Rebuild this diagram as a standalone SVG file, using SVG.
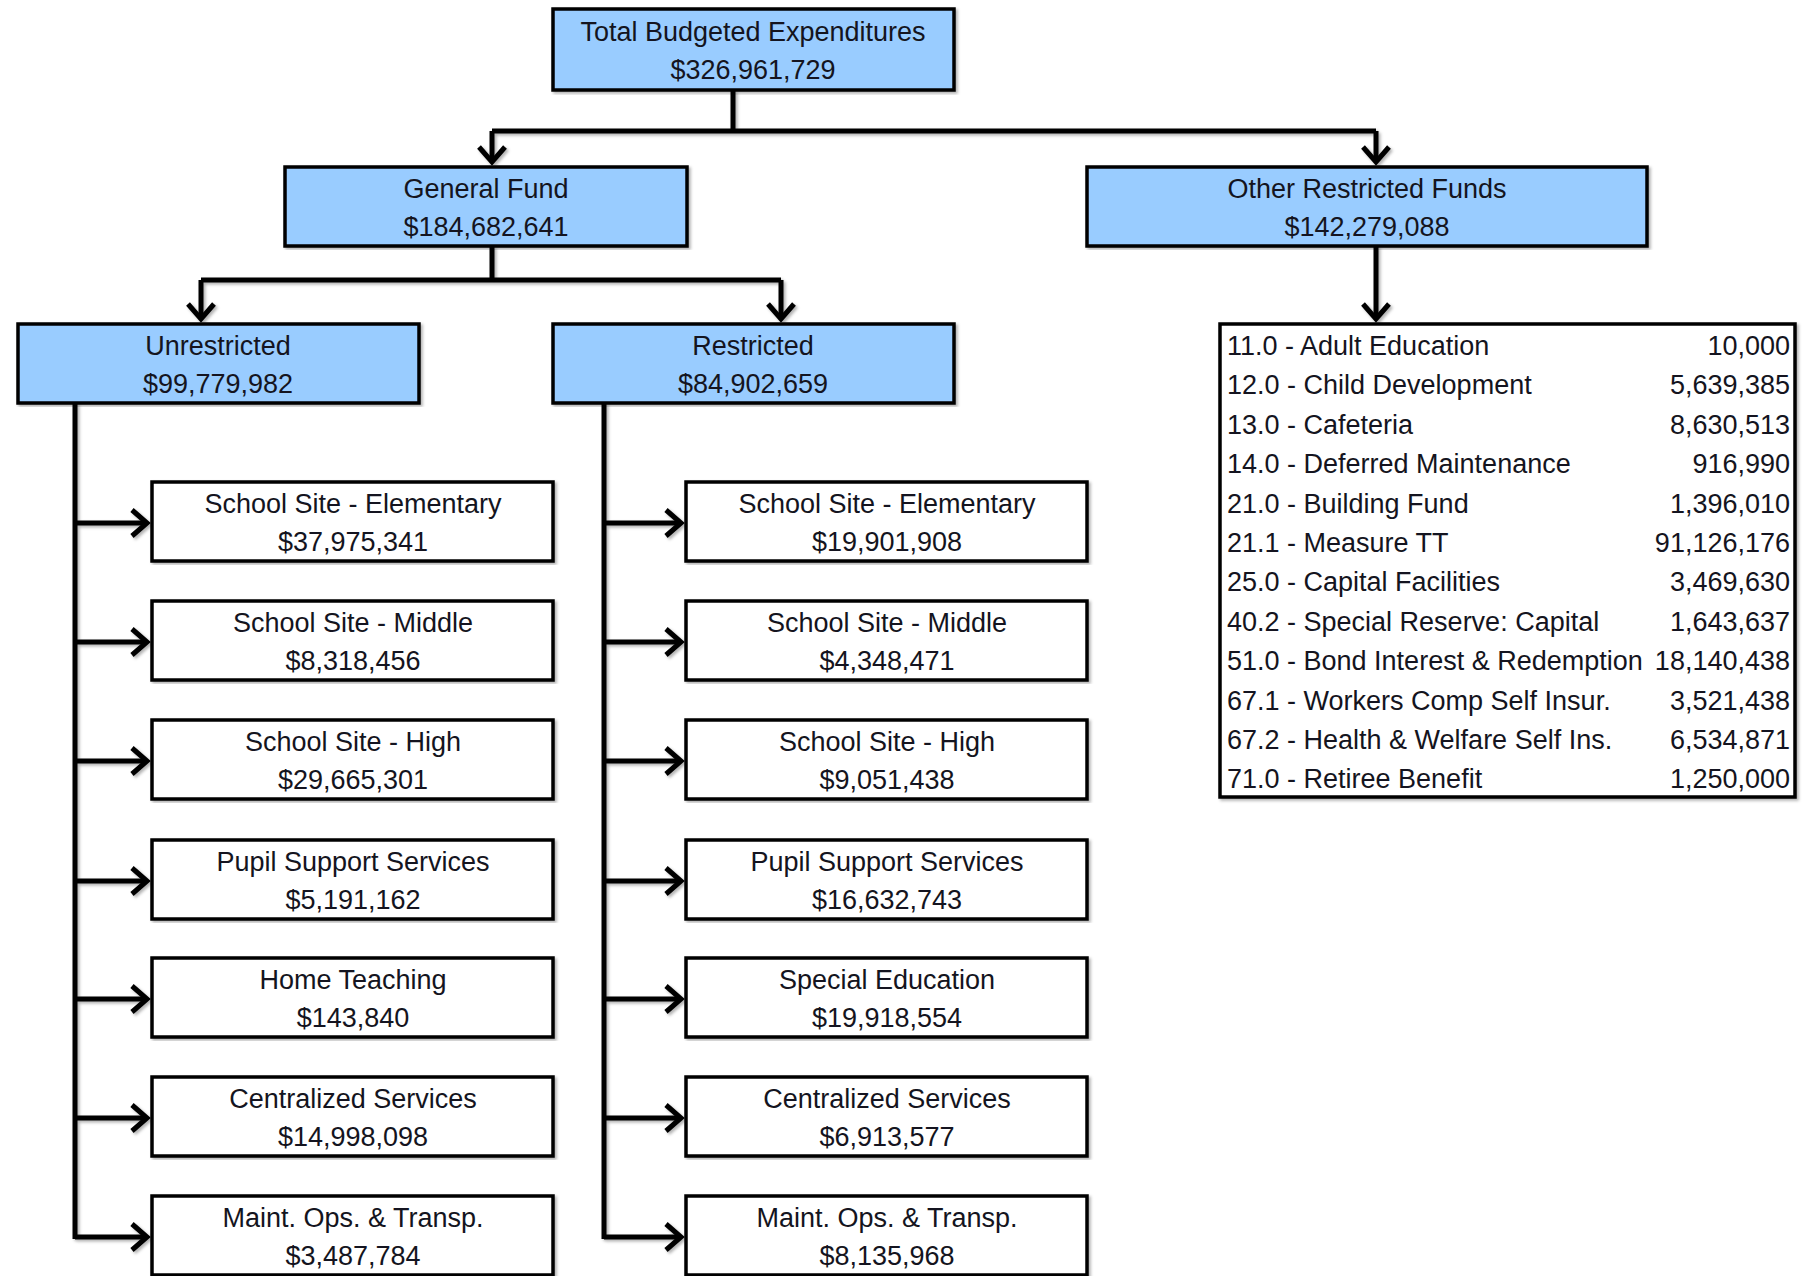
<svg xmlns="http://www.w3.org/2000/svg" width="1802" height="1276" viewBox="0 0 1802 1276">
<style>
text{font-family:"Liberation Sans",Arial,sans-serif;font-size:27px;fill:#141420}
.c{text-anchor:middle}
.e{text-anchor:end}
.hdr{fill:#99ccff;stroke:#000;stroke-width:3.5}
.box{fill:#fff;stroke:#000;stroke-width:3.5}
.ln{fill:none;stroke:#000;stroke-width:5}
.ar{marker-end:url(#arr)}
</style>
<defs>
<filter id="sh" x="-5%" y="-5%" width="110%" height="110%">
<feDropShadow dx="2" dy="2" stdDeviation="1.5" flood-color="#000" flood-opacity="0.3"/>
</filter>
<marker id="arr" markerUnits="userSpaceOnUse" markerWidth="40" markerHeight="40" refX="0" refY="0" orient="auto" overflow="visible">
<path d="M-15,-13 L0,0 L-15,13" fill="none" stroke="#000" stroke-width="5"/>
</marker>
</defs>
<rect width="1802" height="1276" fill="#fff"/>
<g id="connectors" filter="url(#sh)">
<path class="ln" d="M733,90 V131 M492,131 H1376 M492,246 V280 M201,280 H781"/>
<path class="ln ar" d="M492,131 V162"/>
<path class="ln ar" d="M1376,131 V162"/>
<path class="ln ar" d="M201,280 V319"/>
<path class="ln ar" d="M781,280 V319"/>
<path class="ln ar" d="M1376,246 V319"/>
<path class="ln" d="M75,403 V1239 M604,403 V1239"/>
<path class="ln ar" d="M75,523 H147"/>
<path class="ln ar" d="M75,642 H147"/>
<path class="ln ar" d="M75,761 H147"/>
<path class="ln ar" d="M75,881 H147"/>
<path class="ln ar" d="M75,999 H147"/>
<path class="ln ar" d="M75,1118 H147"/>
<path class="ln ar" d="M75,1237 H147"/>
<path class="ln ar" d="M604,523 H681"/>
<path class="ln ar" d="M604,642 H681"/>
<path class="ln ar" d="M604,761 H681"/>
<path class="ln ar" d="M604,881 H681"/>
<path class="ln ar" d="M604,999 H681"/>
<path class="ln ar" d="M604,1118 H681"/>
<path class="ln ar" d="M604,1237 H681"/>
</g>
<g id="total"><rect class="hdr" x="553" y="9" width="401" height="81" filter="url(#sh)"/><text class="c" x="753" y="41">Total Budgeted Expenditures</text><text class="c" x="753" y="79">$326,961,729</text></g>
<g id="general"><rect class="hdr" x="285" y="167" width="402" height="79" filter="url(#sh)"/><text class="c" x="486" y="198">General Fund</text><text class="c" x="486" y="236">$184,682,641</text></g>
<g id="other"><rect class="hdr" x="1087" y="167" width="560" height="79" filter="url(#sh)"/><text class="c" x="1367" y="198">Other Restricted Funds</text><text class="c" x="1367" y="236">$142,279,088</text></g>
<g id="unrestricted"><rect class="hdr" x="18" y="324" width="401" height="79" filter="url(#sh)"/><text class="c" x="218" y="355">Unrestricted</text><text class="c" x="218" y="393">$99,779,982</text></g>
<g id="restricted"><rect class="hdr" x="553" y="324" width="401" height="79" filter="url(#sh)"/><text class="c" x="753" y="355">Restricted</text><text class="c" x="753" y="393">$84,902,659</text></g>
<g id="u1"><rect class="box" x="152" y="482" width="401" height="79" filter="url(#sh)"/><text class="c" x="353" y="513">School Site - Elementary</text><text class="c" x="353" y="551">$37,975,341</text></g>
<g id="u2"><rect class="box" x="152" y="601" width="401" height="79" filter="url(#sh)"/><text class="c" x="353" y="632">School Site - Middle</text><text class="c" x="353" y="670">$8,318,456</text></g>
<g id="u3"><rect class="box" x="152" y="720" width="401" height="79" filter="url(#sh)"/><text class="c" x="353" y="751">School Site - High</text><text class="c" x="353" y="789">$29,665,301</text></g>
<g id="u4"><rect class="box" x="152" y="840" width="401" height="79" filter="url(#sh)"/><text class="c" x="353" y="871">Pupil Support Services</text><text class="c" x="353" y="909">$5,191,162</text></g>
<g id="u5"><rect class="box" x="152" y="958" width="401" height="79" filter="url(#sh)"/><text class="c" x="353" y="989">Home Teaching</text><text class="c" x="353" y="1027">$143,840</text></g>
<g id="u6"><rect class="box" x="152" y="1077" width="401" height="79" filter="url(#sh)"/><text class="c" x="353" y="1108">Centralized Services</text><text class="c" x="353" y="1146">$14,998,098</text></g>
<g id="u7"><rect class="box" x="152" y="1196" width="401" height="79" filter="url(#sh)"/><text class="c" x="353" y="1227">Maint. Ops. &amp; Transp.</text><text class="c" x="353" y="1265">$3,487,784</text></g>
<g id="r1"><rect class="box" x="686" y="482" width="401" height="79" filter="url(#sh)"/><text class="c" x="887" y="513">School Site - Elementary</text><text class="c" x="887" y="551">$19,901,908</text></g>
<g id="r2"><rect class="box" x="686" y="601" width="401" height="79" filter="url(#sh)"/><text class="c" x="887" y="632">School Site - Middle</text><text class="c" x="887" y="670">$4,348,471</text></g>
<g id="r3"><rect class="box" x="686" y="720" width="401" height="79" filter="url(#sh)"/><text class="c" x="887" y="751">School Site - High</text><text class="c" x="887" y="789">$9,051,438</text></g>
<g id="r4"><rect class="box" x="686" y="840" width="401" height="79" filter="url(#sh)"/><text class="c" x="887" y="871">Pupil Support Services</text><text class="c" x="887" y="909">$16,632,743</text></g>
<g id="r5"><rect class="box" x="686" y="958" width="401" height="79" filter="url(#sh)"/><text class="c" x="887" y="989">Special Education</text><text class="c" x="887" y="1027">$19,918,554</text></g>
<g id="r6"><rect class="box" x="686" y="1077" width="401" height="79" filter="url(#sh)"/><text class="c" x="887" y="1108">Centralized Services</text><text class="c" x="887" y="1146">$6,913,577</text></g>
<g id="r7"><rect class="box" x="686" y="1196" width="401" height="79" filter="url(#sh)"/><text class="c" x="887" y="1227">Maint. Ops. &amp; Transp.</text><text class="c" x="887" y="1265">$8,135,968</text></g>
<g id="funds">
<rect class="box" x="1220" y="324" width="575" height="473" filter="url(#sh)"/>
<text x="1227" y="355">11.0 - Adult Education</text><text class="e" x="1790" y="355">10,000</text>
<text x="1227" y="394">12.0 - Child Development</text><text class="e" x="1790" y="394">5,639,385</text>
<text x="1227" y="434">13.0 - Cafeteria</text><text class="e" x="1790" y="434">8,630,513</text>
<text x="1227" y="473">14.0 - Deferred Maintenance</text><text class="e" x="1790" y="473">916,990</text>
<text x="1227" y="513">21.0 - Building Fund</text><text class="e" x="1790" y="513">1,396,010</text>
<text x="1227" y="552">21.1 - Measure TT</text><text class="e" x="1790" y="552">91,126,176</text>
<text x="1227" y="591">25.0 - Capital Facilities</text><text class="e" x="1790" y="591">3,469,630</text>
<text x="1227" y="631">40.2 - Special Reserve: Capital</text><text class="e" x="1790" y="631">1,643,637</text>
<text x="1227" y="670">51.0 - Bond Interest &amp; Redemption</text><text class="e" x="1790" y="670">18,140,438</text>
<text x="1227" y="710">67.1 - Workers Comp Self Insur.</text><text class="e" x="1790" y="710">3,521,438</text>
<text x="1227" y="749">67.2 - Health &amp; Welfare Self Ins.</text><text class="e" x="1790" y="749">6,534,871</text>
<text x="1227" y="788">71.0 - Retiree Benefit</text><text class="e" x="1790" y="788">1,250,000</text>
</g>
</svg>
